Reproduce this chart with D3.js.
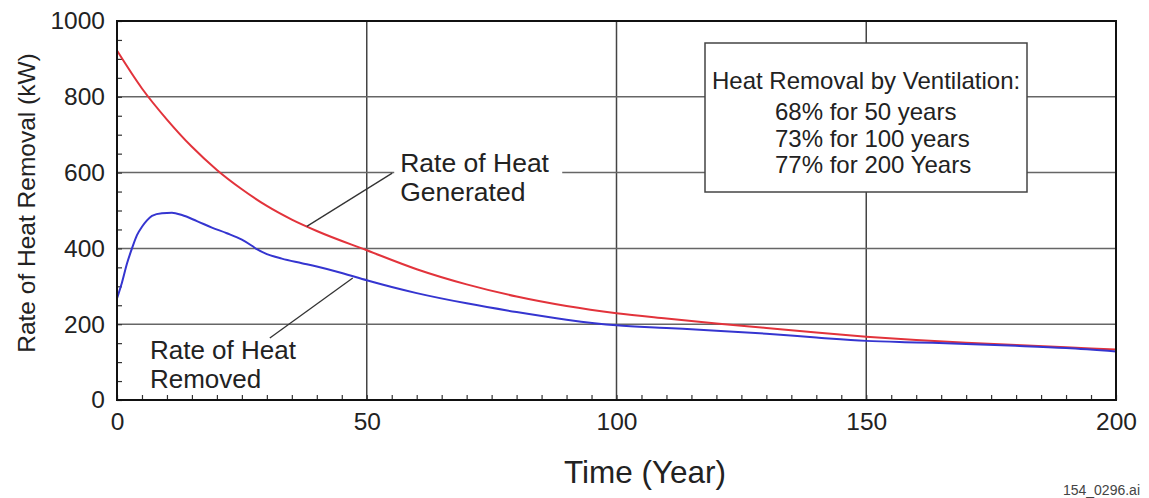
<!DOCTYPE html>
<html>
<head>
<meta charset="utf-8">
<script src="https://cdn.jsdelivr.net/npm/d3@7"></script>
<style>
  body { margin: 0; background: #fff; }
  svg text { font-family: "Liberation Sans", Arial, sans-serif; fill: #222; }
  .axis path { display: none; }
  .axis line { stroke: #333; stroke-width: 1.2; }
  .axis text { font-size: 24.5px; fill: #222; }
</style>
</head>
<body>
<svg id="chart"></svg>
<script>
// years / kW
const genYears = [0, 5, 10, 15, 20, 25, 30, 35, 40, 50, 60, 70, 80, 90, 100, 110, 120, 130, 140, 150, 160, 170, 180, 190, 200];
const genValues = [922, 822, 740, 668, 607, 556, 512, 476, 446, 395, 345, 305, 273, 248, 229, 215, 202, 190, 178, 167, 158, 151, 145, 139, 133];

const remYears = [0, 1, 2, 3, 4, 5, 6, 7, 9, 11, 13, 16, 19, 22, 25, 27, 28, 30, 33, 37, 40, 45, 50, 55, 60, 70, 80, 90, 100, 110, 120, 130, 140, 150, 160, 170, 180, 190, 200];
const remValues = [268, 310, 360, 400, 435, 457, 474, 486, 493, 494, 488, 472, 455, 440, 423, 407, 398, 385, 373, 361, 352, 335, 316, 298, 282, 255, 232, 212, 197, 190, 183, 175, 165, 156, 152, 148, 143, 137, 128];

const xTicks = d3.range(0, 201, 5);
const yTicks = d3.range(0, 1001, 50);
const xGrid = [50, 100, 150];
const yGrid = [200, 400, 600, 800];

const legendLines = ["68% for 50 years", "73% for 100 years", "77% for 200 Years"];

const W = 1149, H = 498;
const margin = {top: 21, right: 33, bottom: 98, left: 117};
const width = W - margin.left - margin.right;
const height = H - margin.top - margin.bottom;

const svg = d3.select('#chart').attr('width', W).attr('height', H);
const g = svg.append('g').attr('transform', `translate(${margin.left},${margin.top})`);

const x = d3.scaleLinear().domain([0, 200]).range([0, width]);
const y = d3.scaleLinear().domain([0, 1000]).range([height, 0]);

// gridlines
g.selectAll('.vgrid').data(xGrid).join('line')
    .attr('x1', d => x(d)).attr('x2', d => x(d))
    .attr('y1', 0).attr('y2', height)
    .attr('stroke', '#444').attr('stroke-width', 1.5);
g.selectAll('.hgrid').data(yGrid).join('line')
    .attr('x1', 0).attr('x2', width)
    .attr('y1', d => y(d)).attr('y2', d => y(d))
    .attr('stroke', '#666').attr('stroke-width', 1.5);

// axes, minor ticks inward
const xAxis = d3.axisBottom(x).tickValues(xTicks).tickSize(-5).tickPadding(8)
    .tickFormat(d => d % 50 === 0 ? d : '');
const yAxis = d3.axisLeft(y).tickValues(yTicks).tickSize(-5).tickPadding(12)
    .tickFormat(d => d % 200 === 0 ? d : '');

g.append('g').attr('class', 'axis').attr('transform', `translate(0,${height})`).call(xAxis)
    .selectAll('text').attr('dy', '0.9em');
g.append('g').attr('class', 'axis').call(yAxis);

// curves
const line = d3.line().x(d => x(d[0])).y(d => y(d[1])).curve(d3.curveMonotoneX);
const genData = genYears.map((d, i) => [d, genValues[i]]);
const remData = remYears.map((d, i) => [d, remValues[i]]);

g.append('path').datum(genData).attr('d', line)
    .attr('fill', 'none').attr('stroke', '#e2333b').attr('stroke-width', 2);
g.append('path').datum(remData).attr('d', line)
    .attr('fill', 'none').attr('stroke', '#3535d0').attr('stroke-width', 2);

// frame
g.append('rect').attr('width', width).attr('height', height)
    .attr('fill', 'none').attr('stroke', '#111').attr('stroke-width', 2);

// annotation: generated
g.append('rect').attr('x', x(55.5)).attr('y', 128).attr('width', 168).attr('height', 60).attr('fill', '#fff');
g.append('line')
    .attr('x1', x(55.1)).attr('y1', y(600) + 0.5)
    .attr('x2', x(38)).attr('y2', y(458))
    .attr('stroke', '#333').attr('stroke-width', 1.3);
g.append('text').attr('x', x(56.7)).attr('y', 151).style('font-size', '26.5px').text('Rate of Heat');
g.append('text').attr('x', x(56.7)).attr('y', 180).style('font-size', '26.5px').text('Generated');

// annotation: removed
g.append('line')
    .attr('x1', x(30.6)).attr('y1', 317)
    .attr('x2', x(47.2)).attr('y2', y(322))
    .attr('stroke', '#333').attr('stroke-width', 1.3);
g.append('text').attr('x', x(6.6)).attr('y', 338).style('font-size', '26px').text('Rate of Heat');
g.append('text').attr('x', x(6.6)).attr('y', 367).style('font-size', '26px').text('Removed');

// legend box
const lg = svg.append('g').attr('transform', 'translate(705,43)');
lg.append('rect').attr('width', 322).attr('height', 149)
    .attr('fill', '#fff').attr('stroke', '#444').attr('stroke-width', 1.5);
lg.append('text').attr('x', 7).attr('y', 46).style('font-size', '24px')
    .text('Heat Removal by Ventilation:');
lg.selectAll('.ll').data(legendLines).join('text')
    .attr('x', 70).attr('y', (d, i) => 77 + i * 26.5)
    .style('font-size', '24px').text(d => d);

// axis titles
svg.append('text').attr('x', 645).attr('y', 483)
    .attr('text-anchor', 'middle').style('font-size', '31.5px').text('Time (Year)');
svg.append('text').attr('transform', 'translate(35,203) rotate(-90)')
    .attr('text-anchor', 'middle').style('font-size', '24.5px').text('Rate of Heat Removal (kW)');

// file tag
svg.append('text').attr('x', 1140).attr('y', 495).attr('text-anchor', 'end')
    .style('font-size', '14px').style('fill', '#444').text('154_0296.ai');
</script>
</body>
</html>
